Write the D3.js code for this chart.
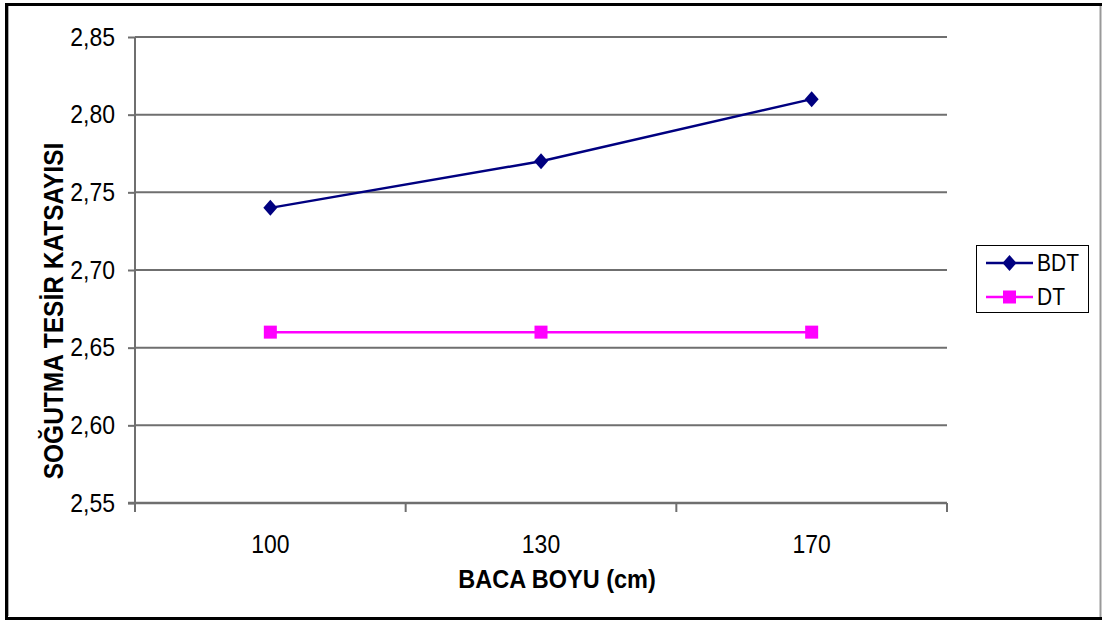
<!DOCTYPE html>
<html>
<head>
<meta charset="utf-8">
<script src="https://cdn.jsdelivr.net/npm/d3@7"></script>
<style>
  html, body { margin: 0; padding: 0; background: #fff; }
  svg { display: block; }
  text { font-family: "Liberation Sans", Arial, sans-serif; fill: #000; }
</style>
</head>
<body>
<svg id="chart" width="1103" height="621"></svg>
<script>
// Chimney height categories (cm)
const categories = ["100", "130", "170"];
// Cooling effectiveness coefficient per series
const bdtValues = [2.74, 2.77, 2.81];
const dtValues = [2.66, 2.66, 2.66];
const yTicks = [2.55, 2.60, 2.65, 2.70, 2.75, 2.80, 2.85];
const seriesNames = ["BDT", "DT"];

const svg = d3.select("#chart");
const W = 1103, H = 621;
const plot = { left: 135, right: 947, top: 37, bottom: 503 };
const stretch = 1.12; // glyphs are drawn slightly taller than wide

// Outer chart frame
svg.append("rect").attr("x", 0).attr("y", 0).attr("width", W).attr("height", H).attr("fill", "#fff");
svg.append("line").attr("x1", 5).attr("x2", 1102).attr("y1", 4.5).attr("y2", 4.5).attr("stroke", "#000").attr("stroke-width", 3);
svg.append("line").attr("x1", 6.5).attr("x2", 6.5).attr("y1", 3).attr("y2", 620).attr("stroke", "#000").attr("stroke-width", 3);
svg.append("line").attr("x1", 8.5).attr("x2", 8.5).attr("y1", 6).attr("y2", 616).attr("stroke", "#aaa").attr("stroke-width", 1);
svg.append("line").attr("x1", 5).attr("x2", 1102).attr("y1", 618.5).attr("y2", 618.5).attr("stroke", "#000").attr("stroke-width", 3);
svg.append("line").attr("x1", 1100.5).attr("x2", 1100.5).attr("y1", 6).attr("y2", 617).attr("stroke", "#999").attr("stroke-width", 2);

const x = d3.scaleBand().domain(categories).range([plot.left, plot.right]);
const y = d3.scaleLinear().domain([2.55, 2.85]).range([plot.bottom, plot.top]);
const fmt = d => d3.format(".2f")(d).replace(".", ",");

const gridColor = "#6f6f6f";

// Horizontal gridlines
svg.append("g").selectAll("line").data(yTicks.filter(t => t > 2.55)).join("line")
  .attr("x1", plot.left).attr("x2", plot.right)
  .attr("y1", d => y(d)).attr("y2", d => y(d))
  .attr("stroke", gridColor).attr("stroke-width", 2);

// Y axis
const yAxis = svg.append("g").attr("transform", `translate(${plot.left},0)`)
  .call(d3.axisLeft(y).tickValues(yTicks).tickFormat(fmt).tickSize(7).tickPadding(13));
yAxis.select(".domain").attr("stroke", gridColor).attr("stroke-width", 2).attr("d", `M0,${plot.top}V${plot.bottom}`);
yAxis.selectAll(".tick line").attr("stroke", gridColor).attr("stroke-width", 2);
yAxis.selectAll(".tick text").attr("font-size", 23).attr("font-family", "Liberation Sans, Arial, sans-serif")
  .attr("fill", "#000").attr("transform", `scale(1,${stretch})`);

// X axis with tick marks at category boundaries
const xAxisG = svg.append("g").attr("transform", `translate(0,${plot.bottom})`);
xAxisG.append("line").attr("x1", plot.left - 7).attr("x2", plot.right)
  .attr("stroke", gridColor).attr("stroke-width", 2.5);
const bounds = categories.map(c => x(c)).concat([x(categories[categories.length - 1]) + x.bandwidth()]);
xAxisG.selectAll("line.tk").data(bounds).join("line").attr("class", "tk")
  .attr("x1", d => d).attr("x2", d => d).attr("y1", 0).attr("y2", 9)
  .attr("stroke", gridColor).attr("stroke-width", 2);
xAxisG.selectAll("text").data(categories).join("text")
  .attr("transform", d => `translate(${x(d) + x.bandwidth() / 2},50) scale(1,${stretch})`)
  .attr("text-anchor", "middle").attr("font-size", 23).text(d => d);

// Axis titles
svg.append("text").attr("transform", `translate(557,588) scale(1,${stretch})`)
  .attr("text-anchor", "middle").attr("font-size", 23.5).attr("font-weight", "bold")
  .text("BACA BOYU (cm)");
svg.append("text").attr("transform", `translate(63,311) rotate(-90) scale(1,${stretch})`)
  .attr("text-anchor", "middle").attr("font-size", 24.5).attr("font-weight", "bold")
  .text("SOĞUTMA TESİR KATSAYISI");

const cx = d => x(d) + x.bandwidth() / 2;
const line = d3.line().x(d => cx(d.c)).y(d => y(d.v));

const series = [
  { name: seriesNames[0], values: bdtValues, color: "#000080", marker: "diamond" },
  { name: seriesNames[1], values: dtValues, color: "#FF00FF", marker: "square" }
];

function drawMarker(g, type, color) {
  if (type === "diamond") {
    g.append("path").attr("d", "M0,-8L7,0L0,8L-7,0Z").attr("fill", color);
  } else {
    g.append("rect").attr("x", -6.5).attr("y", -6.5).attr("width", 13).attr("height", 13).attr("fill", color);
  }
}

series.forEach(s => {
  const pts = s.values.map((v, i) => ({ c: categories[i], v }));
  svg.append("path").datum(pts).attr("d", line)
    .attr("fill", "none").attr("stroke", s.color).attr("stroke-width", 2.5);
  pts.forEach(p => {
    const g = svg.append("g").attr("transform", `translate(${cx(p.c)},${y(p.v)})`);
    drawMarker(g, s.marker, s.color);
  });
});

// Legend
const leg = svg.append("g");
leg.append("rect").attr("x", 976.5).attr("y", 245.5).attr("width", 112).attr("height", 67)
  .attr("fill", "#fff").attr("stroke", "#000").attr("stroke-width", 1);
series.forEach((s, i) => {
  const ly = 263 + i * 34;
  leg.append("line").attr("x1", 986).attr("x2", 1033).attr("y1", ly).attr("y2", ly)
    .attr("stroke", s.color).attr("stroke-width", 2.5);
  const g = leg.append("g").attr("transform", `translate(1009.5,${ly})`);
  drawMarker(g, s.marker, s.color);
  leg.append("text").attr("transform", `translate(1037,${ly + 8}) scale(1,${stretch})`)
    .attr("font-size", 21).text(s.name);
});
</script>
</body>
</html>
